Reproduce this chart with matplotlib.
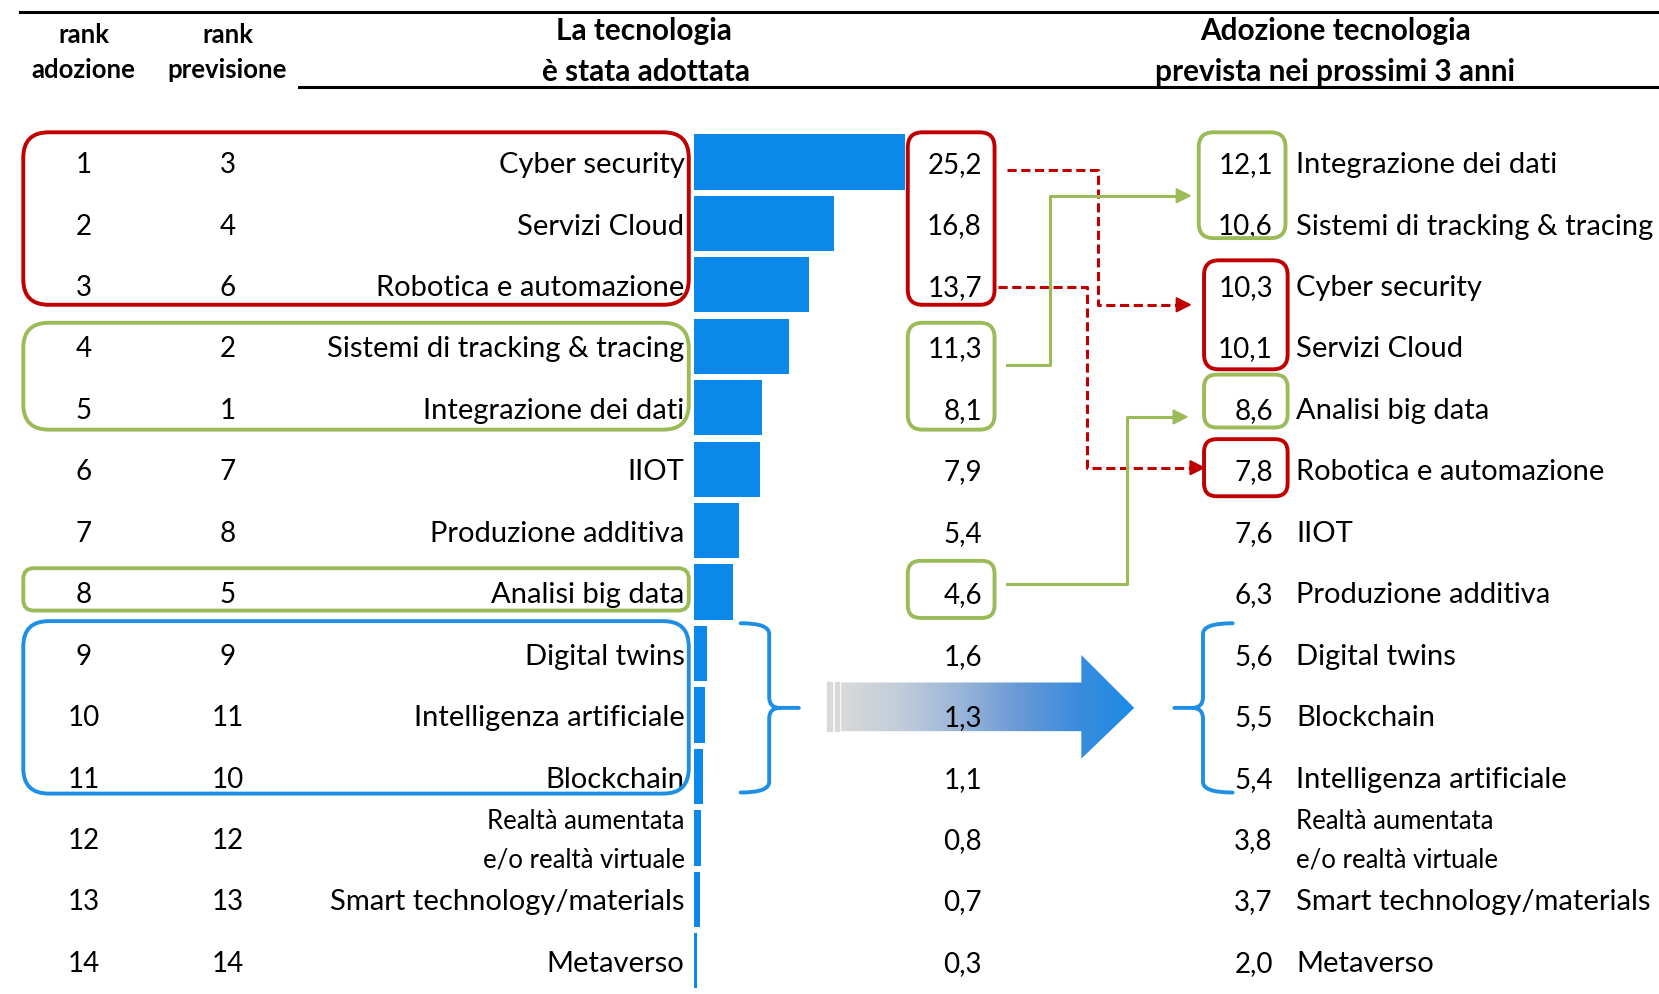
import numpy as np
import matplotlib.pyplot as plt
from matplotlib.patches import FancyBboxPatch, Polygon, PathPatch
from matplotlib.path import Path
from matplotlib.colors import LinearSegmentedColormap

plt.rcParams['font.family'] = ['Lato', 'DejaVu Sans']

# data
rank_adoz = list(range(1, 15))
rank_prev = [3, 4, 6, 2, 1, 7, 8, 5, 9, 11, 10, 12, 13, 14]
tech = ['Cyber security', 'Servizi Cloud', 'Robotica e automazione',
        'Sistemi di tracking & tracing', 'Integrazione dei dati', 'IIOT',
        'Produzione additiva', 'Analisi big data', 'Digital twins',
        'Intelligenza artificiale', 'Blockchain',
        'Realtà aumentata\ne/o realtà virtuale',
        'Smart technology/materials', 'Metaverso']
adopted = [25.2, 16.8, 13.7, 11.3, 8.1, 7.9, 5.4, 4.6, 1.6, 1.3, 1.1, 0.8, 0.7, 0.3]

tech_prev = ['Integrazione dei dati', 'Sistemi di tracking & tracing',
             'Cyber security', 'Servizi Cloud', 'Analisi big data',
             'Robotica e automazione', 'IIOT', 'Produzione additiva',
             'Digital twins', 'Blockchain', 'Intelligenza artificiale',
             'Realtà aumentata\ne/o realtà virtuale',
             'Smart technology/materials', 'Metaverso']
expected = [12.1, 10.6, 10.3, 10.1, 8.6, 7.8, 7.6, 6.3, 5.6, 5.5, 5.4, 3.8, 3.7, 2.0]

RED = '#C00000'
GREEN = '#9BBB59'
BLUE = '#0A89EB'
BLUE2 = '#1F8FE6'

W, H = 1659, 995
fig = plt.figure(figsize=(W / 100, H / 100), dpi=100)
ax = fig.add_axes([0, 0, 1, 1])
ax.set_xlim(0, W)
ax.set_ylim(H, 0)
ax.axis('off')

f = W / 1568.0
y0 = 154 * f
dy = 58.08 * f
rows = y0 + np.arange(len(tech)) * dy
tdy = 2 * f  # small text baseline nudge

def fmt(v):
    return f'{v:.1f}'.replace('.', ',')

FS = 21
FN = 20
FS2 = 18.5

# header
ax.plot([19 * f, W], [12 * f, 12 * f], color='black', lw=2.2)
ax.plot([283 * f, W], [83 * f, 83 * f], color='black', lw=2.2)
hk = dict(fontsize=18.5, fontweight='bold', ha='center', va='center')
ax.text(79 * f, 33 * f, 'rank', **hk)
ax.text(79 * f, 66 * f, 'adozione', **hk)
ax.text(215 * f, 33 * f, 'rank', **hk)
ax.text(215 * f, 66 * f, 'previsione', **hk)
hk2 = dict(fontsize=21.4, fontweight='bold', ha='center', va='center')
ax.text(609 * f, 29 * f, 'La tecnologia', **hk2)
ax.text(611 * f, 68 * f, 'è stata adottata', **hk2)
ax.text(1262 * f, 29 * f, 'Adozione tecnologia', **hk2)
ax.text(1262 * f, 68 * f, 'prevista nei prossimi 3 anni', **hk2)

# bars
bx0 = 656 * f
scale = 7.9 * f
ax.barh(rows, np.array(adopted) * scale, left=bx0, height=dy * 0.9,
        color=BLUE, zorder=2)

# table text
for i, y in enumerate(rows + tdy):
    ax.text(79 * f, y, str(rank_adoz[i]), fontsize=FN, ha='center', va='center')
    ax.text(215 * f, y, str(rank_prev[i]), fontsize=FN, ha='center', va='center')
    ax.text(928 * f, y, fmt(adopted[i]), fontsize=FN, ha='right', va='center', zorder=5)
    ax.text(1203 * f, y, fmt(expected[i]), fontsize=FN, ha='right', va='center')
    if '\n' in tech[i]:
        a, b = tech[i].split('\n')
        ax.text(647 * f, y - 18 * f, a, fontsize=FS2, ha='right', va='center')
        ax.text(647 * f, y + 18 * f, b, fontsize=FS2, ha='right', va='center')
    else:
        ax.text(647 * f, y, tech[i], fontsize=FS, ha='right', va='center')
    if '\n' in tech_prev[i]:
        a, b = tech_prev[i].split('\n')
        ax.text(1225 * f, y - 18 * f, a, fontsize=FS2, ha='left', va='center')
        ax.text(1225 * f, y + 18 * f, b, fontsize=FS2, ha='left', va='center')
    else:
        ax.text(1225 * f, y, tech_prev[i], fontsize=FS, ha='left', va='center')

def rbox(x0, y0_, x1, y1, color, r=24):
    p = FancyBboxPatch((x0 * f, y0_ * f), (x1 - x0) * f, (y1 - y0_) * f,
                       boxstyle=f'round,pad=0,rounding_size={r * f}',
                       fill=False, ec=color, lw=2.8, zorder=4)
    ax.add_patch(p)

# left boxes
rbox(22, 126, 651, 289, RED)
rbox(22, 306, 651, 407, GREEN)
rbox(22, 538, 651, 578, GREEN, r=10)
rbox(22, 588, 651, 751, BLUE2)
# value boxes
rbox(858, 126, 940, 289, RED, r=14)
rbox(858, 306, 940, 407, GREEN, r=14)
rbox(858, 531, 940, 585, GREEN, r=12)
# right boxes
rbox(1133, 126, 1215, 226, GREEN, r=14)
rbox(1138, 247, 1217, 350, RED, r=14)
rbox(1138, 355, 1217, 405, GREEN, r=12)
rbox(1138, 416, 1217, 470, RED, r=12)

def connector(pts, color, ls):
    xs = [p[0] * f for p in pts]
    ys = [p[1] * f for p in pts]
    ax.plot(xs[:-1] + [xs[-1] - 12], ys, color=color, lw=2.2, ls=ls,
            dashes=(3, 1.5) if ls == '--' else (None, None), zorder=3)
    ax.add_patch(Polygon([[xs[-1], ys[-1]], [xs[-1] - 14, ys[-1] - 7],
                          [xs[-1] - 14, ys[-1] + 7]], closed=True,
                         color=color, zorder=3))

connector([(952, 162), (1038, 162), (1038, 289), (1125, 289)], RED, '--')
connector([(943, 272), (1027, 272), (1027, 443), (1138, 443)], RED, '--')
connector([(952, 346), (992, 346), (992, 186), (1125, 186)], GREEN, '-')
connector([(952, 553), (1065, 553), (1065, 395), (1122, 395)], GREEN, '-')

# curly brackets
def brace(xe, xm, xt, ytop, ybot):
    ym = (ytop + ybot) / 2
    c = 10
    s = 1 if xt > xm else -1
    verts = [(xe, ytop), (xm, ytop), (xm, ytop + c),
             (xm, ym - c), (xm, ym), (xm + s * c, ym),
             (xt, ym),
             (xm + s * c, ym), (xm, ym), (xm, ym + c),
             (xm, ybot - c), (xm, ybot), (xe, ybot)]
    codes = [Path.MOVETO, Path.CURVE3, Path.CURVE3,
             Path.LINETO, Path.CURVE3, Path.CURVE3,
             Path.LINETO,
             Path.MOVETO, Path.CURVE3, Path.CURVE3,
             Path.LINETO, Path.CURVE3, Path.CURVE3]
    verts = [(vx * f, vy * f) for vx, vy in verts]
    ax.add_patch(PathPatch(Path(verts, codes), fill=False, ec=BLUE2, lw=2.8,
                           capstyle='round', joinstyle='round', zorder=3))

brace(700, 727, 755, 590, 750)
brace(1165, 1137, 1110, 590, 750)

# gradient arrow
arrow = np.array([(795, 646), (1022, 646), (1022, 620), (1072, 670),
                  (1022, 718), (1022, 692), (795, 692)]) * f
grad = np.linspace(0, 1, 256).reshape(1, -1)
cmap = LinearSegmentedColormap.from_list(
    'g', ['#D9D9D9', '#C2CCDA', '#9BB6D8', '#6A9AD5', '#3D8CDC', '#1A8BE6'])
im = ax.imshow(grad, cmap=cmap, extent=[795 * f, 1072 * f, 720 * f, 618 * f],
               aspect='auto', zorder=1)
poly = Polygon(arrow, closed=True, fc='none', ec='none')
ax.add_patch(poly)
im.set_clip_path(poly)
for sx in (782, 789):
    ax.add_patch(plt.Rectangle((sx * f, 646 * f), 4 * f, 46 * f,
                               color='#D9D9D9', zorder=1))

ax.set_xlim(0, W)
ax.set_ylim(H, 0)
fig.savefig('out.png', dpi=100)
